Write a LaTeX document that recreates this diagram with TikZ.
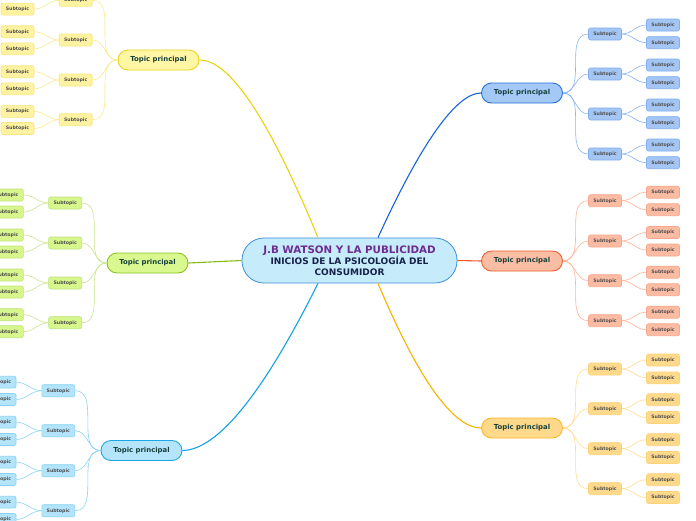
\documentclass[tikz,border=0pt]{standalone}
\usepackage{fontspec}
\setmainfont{DejaVu Sans}
% colours
\definecolor{cFill}{HTML}{C6EBFB}
\definecolor{cLine}{HTML}{3D90D8}
\definecolor{ttl}{HTML}{6E2C92}
\definecolor{subttl}{HTML}{16224A}
\definecolor{topictext}{HTML}{17403A}
\definecolor{subtext}{HTML}{505050}
% yellow
\definecolor{yMain}{HTML}{EBD10F}
\definecolor{yTopFill}{HTML}{FFF6A6}
\definecolor{yTopLine}{HTML}{EDD31B}
\definecolor{ySubFill}{HTML}{FFF3A2}
\definecolor{ySubLine}{HTML}{F8E684}
\definecolor{yLine}{HTML}{F8EA8C}
% blue
\definecolor{bMain}{HTML}{1565D8}
\definecolor{bTopFill}{HTML}{A5C9F7}
\definecolor{bTopLine}{HTML}{2470D8}
\definecolor{bSubFill}{HTML}{A3C6F5}
\definecolor{bSubLine}{HTML}{80ADEF}
\definecolor{bLine}{HTML}{8AB4F0}
% green
\definecolor{gMain}{HTML}{86BC12}
\definecolor{gTopFill}{HTML}{D9F88F}
\definecolor{gTopLine}{HTML}{8CC220}
\definecolor{gSubFill}{HTML}{D7F68C}
\definecolor{gSubLine}{HTML}{C0E57C}
\definecolor{gLine}{HTML}{CDE593}
% salmon
\definecolor{sMain}{HTML}{EE5B25}
\definecolor{sTopFill}{HTML}{FCBDA5}
\definecolor{sTopLine}{HTML}{EC5E2D}
\definecolor{sSubFill}{HTML}{FCBCA4}
\definecolor{sSubLine}{HTML}{F7A88C}
\definecolor{sLine}{HTML}{FBB59B}
% cyan
\definecolor{kMain}{HTML}{12A2E4}
\definecolor{kTopFill}{HTML}{B5E5FC}
\definecolor{kTopLine}{HTML}{1DA6E4}
\definecolor{kSubFill}{HTML}{B3E4FB}
\definecolor{kSubLine}{HTML}{86D2F3}
\definecolor{kLine}{HTML}{8CD3F4}
% orange
\definecolor{oMain}{HTML}{F7B300}
\definecolor{oTopFill}{HTML}{FFD98B}
\definecolor{oTopLine}{HTML}{F7B72A}
\definecolor{oSubFill}{HTML}{FFDA8D}
\definecolor{oSubLine}{HTML}{FFD27A}
\definecolor{oLine}{HTML}{FFDB8F}
\begin{document}
\begin{tikzpicture}[x=1pt,y=-1pt,
  centre/.style={draw=cLine, fill=cFill, line width=0.8pt, rounded corners=22pt,
    minimum width=215pt, minimum height=45pt, inner sep=0pt, align=center,
    font=\fontsize{9}{11}\selectfont\bfseries, text=subttl},
  topic/.style={line width=0.9pt, rounded corners=10pt, minimum width=81pt,
    minimum height=20pt, inner sep=0pt, font=\fontsize{6.9}{8}\selectfont\bfseries,
    text=topictext},
  sub/.style={line width=0.6pt, rounded corners=2pt, minimum width=33pt,
    minimum height=12pt, inner sep=0pt, font=\fontsize{4.7}{5}\selectfont\bfseries,
    text=subtext},
  mainline/.style={line width=1.1pt},
  subline/.style={line width=0.6pt}
]
\useasboundingbox (0,0) rectangle (696,520);
\fill[white] (0,0) rectangle (696,520);
\clip (0,0) rectangle (696,520);

% centre
\node[centre] (C) at (349.5,260.5)
  {{\fontsize{10.3}{11}\selectfont\color{ttl}J.B WATSON Y LA PUBLICIDAD}\\
   INICIOS DE LA PSICOLOGÍA DEL\\ CONSUMIDOR};

% topics
\node[topic, fill=yTopFill, draw=yTopLine] (Y) at (158.5,60) {Topic principal};
\node[topic, fill=bTopFill, draw=bTopLine] (B) at (522,93) {Topic principal};
\node[topic, fill=gTopFill, draw=gTopLine] (G) at (147.5,263) {Topic principal};
\node[topic, fill=sTopFill, draw=sTopLine] (S) at (522,261) {Topic principal};
\node[topic, fill=kTopFill, draw=kTopLine] (K) at (141.5,450.5) {Topic principal};
\node[topic, fill=oTopFill, draw=oTopLine] (O) at (522,428) {Topic principal};

% main branches
\draw[mainline, draw=yMain] ([xshift=-31.5pt]C.north) .. controls (269,119) and (230,60) .. (Y.east);
\draw[mainline, draw=bMain] ([xshift=28.5pt]C.north) .. controls (422,141.3) and (456.7,93) .. (B.west);
\draw[mainline, draw=gMain] (G.east) -- (C.west);
\draw[mainline, draw=sMain] (C.east) -- (S.west);
\draw[mainline, draw=kMain] ([xshift=-31.5pt]C.south) .. controls (262.7,394.3) and (217.3,450) .. (K.east);
\draw[mainline, draw=oMain] ([xshift=28.5pt]C.south) .. controls (418.7,379.7) and (453.3,428) .. (O.west);

% right side: blue
\foreach \i/\y in {1/34,2/74,3/114,4/154}{
  \node[sub, fill=bSubFill, draw=bSubLine] (B\i) at (605,\y) {Subtopic};
  \node[sub, fill=bSubFill, draw=bSubLine] (B\i-1) at (663,\y-9) {Subtopic};
  \node[sub, fill=bSubFill, draw=bSubLine] (B\i-2) at (663,\y+8.7) {Subtopic};
  \draw[subline, draw=bLine] (B.east) to[out=0,in=180] (B\i.west);
  \draw[subline, draw=bLine] (B\i.east) to[out=0,in=180] (B\i-1.west);
  \draw[subline, draw=bLine] (B\i.east) to[out=0,in=180] (B\i-2.west);
}
% right side: salmon
\foreach \i/\y in {1/200.7,2/241,3/280.7,4/320.7}{
  \node[sub, fill=sSubFill, draw=sSubLine] (S\i) at (605,\y) {Subtopic};
  \node[sub, fill=sSubFill, draw=sSubLine] (S\i-1) at (663,\y-8.5) {Subtopic};
  \node[sub, fill=sSubFill, draw=sSubLine] (S\i-2) at (663,\y+9) {Subtopic};
  \draw[subline, draw=sLine] (S.east) to[out=0,in=180] (S\i.west);
  \draw[subline, draw=sLine] (S\i.east) to[out=0,in=180] (S\i-1.west);
  \draw[subline, draw=sLine] (S\i.east) to[out=0,in=180] (S\i-2.west);
}
% right side: orange
\foreach \i/\y in {1/369,2/408.7,3/448.7,4/488.7}{
  \node[sub, fill=oSubFill, draw=oSubLine] (O\i) at (605,\y) {Subtopic};
  \node[sub, fill=oSubFill, draw=oSubLine] (O\i-1) at (663,\y-9) {Subtopic};
  \node[sub, fill=oSubFill, draw=oSubLine] (O\i-2) at (663,\y+8.8) {Subtopic};
  \draw[subline, draw=oLine] (O.east) to[out=0,in=180] (O\i.west);
  \draw[subline, draw=oLine] (O\i.east) to[out=0,in=180] (O\i-1.west);
  \draw[subline, draw=oLine] (O\i.east) to[out=0,in=180] (O\i-2.west);
}
% left side: yellow
\foreach \i/\y in {1/0.3,2/40,3/80,4/119.7}{
  \node[sub, fill=ySubFill, draw=ySubLine] (Y\i) at (75.7,\y) {Subtopic};
  \node[sub, fill=ySubFill, draw=ySubLine] (Y\i-1) at (17.5,\y-8.3) {Subtopic};
  \node[sub, fill=ySubFill, draw=ySubLine] (Y\i-2) at (17.5,\y+8.8) {Subtopic};
  \draw[subline, draw=yLine] (Y.west) to[out=180,in=0] (Y\i.east);
  \draw[subline, draw=yLine] (Y\i.west) to[out=180,in=0] (Y\i-1.east);
  \draw[subline, draw=yLine] (Y\i.west) to[out=180,in=0] (Y\i-2.east);
}
% left side: green
\foreach \i/\y in {1/203,2/243,3/283,4/322.7}{
  \node[sub, fill=gSubFill, draw=gSubLine] (G\i) at (65.2,\y) {Subtopic};
  \node[sub, fill=gSubFill, draw=gSubLine] (G\i-1) at (6.8,\y-8) {Subtopic};
  \node[sub, fill=gSubFill, draw=gSubLine] (G\i-2) at (6.8,\y+9) {Subtopic};
  \draw[subline, draw=gLine] (G.west) to[out=180,in=0] (G\i.east);
  \draw[subline, draw=gLine] (G\i.west) to[out=180,in=0] (G\i-1.east);
  \draw[subline, draw=gLine] (G\i.west) to[out=180,in=0] (G\i-2.east);
}
% left side: cyan
\foreach \i/\y in {1/390.7,2/430.7,3/470.7,4/510.7}{
  \node[sub, fill=kSubFill, draw=kSubLine] (K\i) at (58.3,\y) {Subtopic};
  \node[sub, fill=kSubFill, draw=kSubLine] (K\i-1) at (-0.5,\y-8.6) {Subtopic};
  \node[sub, fill=kSubFill, draw=kSubLine] (K\i-2) at (-0.5,\y+8.8) {Subtopic};
  \draw[subline, draw=kLine] (K.west) to[out=180,in=0] (K\i.east);
  \draw[subline, draw=kLine] (K\i.west) to[out=180,in=0] (K\i-1.east);
  \draw[subline, draw=kLine] (K\i.west) to[out=180,in=0] (K\i-2.east);
}
\end{tikzpicture}
\end{document}
